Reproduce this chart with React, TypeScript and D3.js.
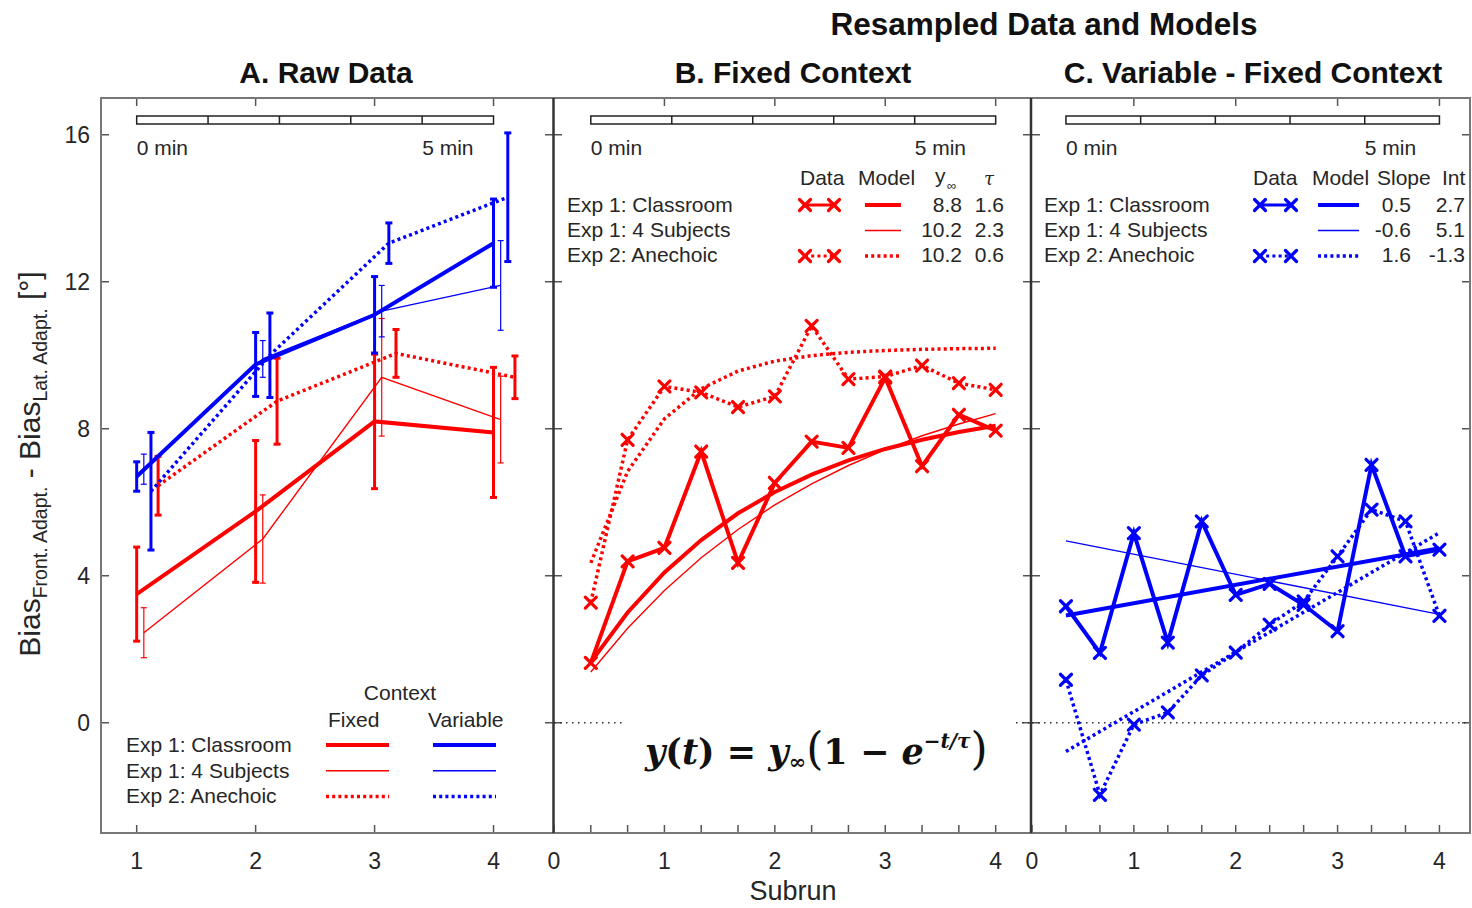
import React from 'react';
import * as d3 from 'd3';

// ---------- Panel A: raw data (mean ± error) ----------
const subrun = [1, 2, 3, 4];
const fixClassMean = [3.5, 5.75, 8.2, 7.9];
const fixClassErr = [1.28, 1.93, 1.83, 1.77];
const fix4SubjMean = [2.45, 5.0, 9.4, 8.25];
const fix4SubjErr = [0.68, 1.2, 1.6, 1.18];
const fixAnechMean = [6.45, 8.75, 10.05, 9.4];
const fixAnechErr = [0.8, 1.17, 0.65, 0.58];
const varClassMean = [6.7, 9.75, 11.1, 13.05];
const varClassErr = [0.4, 0.87, 1.04, 1.2];
const var4SubjMean = [6.9, 9.9, 11.2, 11.9];
const var4SubjErr = [0.41, 0.5, 0.7, 1.22];
const varAnechMean = [6.3, 10.0, 13.05, 14.3];
const varAnechErr = [1.6, 1.15, 0.55, 1.75];

// ---------- Panels B and C: resampled data and models ----------
const resampleT = [1 / 3, 2 / 3, 1, 4 / 3, 5 / 3, 2, 7 / 3, 8 / 3, 3, 10 / 3, 11 / 3, 4];
const fixClassData = [1.63, 4.39, 4.76, 7.38, 4.35, 6.53, 7.65, 7.48, 9.39, 6.98, 8.38, 7.95];
const fixAnechData = [3.27, 7.7, 9.15, 8.99, 8.59, 8.88, 10.8, 9.35, 9.42, 9.72, 9.24, 9.06];
const fixClassModel = [1.65, 3.0, 4.09, 4.97, 5.7, 6.28, 6.75, 7.14, 7.45, 7.7, 7.91, 8.08];
const fix4SubjModel = [1.38, 2.57, 3.6, 4.49, 5.26, 5.93, 6.5, 7.0, 7.43, 7.81, 8.13, 8.41];
const fixAnechModel = [4.35, 6.84, 8.27, 9.09, 9.57, 9.84, 9.99, 10.08, 10.13, 10.16, 10.18, 10.19];

const diffClassData = [3.17, 1.9, 5.16, 2.18, 5.48, 3.48, 3.78, 3.21, 2.49, 7.02, 4.53, 4.71];
const diffAnechData = [1.17, -1.96, -0.05, 0.28, 1.29, 1.91, 2.67, 3.3, 4.53, 5.8, 5.48, 2.91];
const diffModelT = [1 / 3, 4];
const diffClassModel = [2.92, 4.75];
const diff4SubjModel = [4.95, 2.95];
const diffAnechModel = [-0.78, 5.17];

// ---------- Legends / labels ----------
const expNames = ['Exp 1: Classroom', 'Exp 1: 4 Subjects', 'Exp 2: Anechoic'];
const yInfValues = ['8.8', '10.2', '10.2'];
const tauValues = ['1.6', '2.3', '0.6'];
const slopeValues = ['0.5', '-0.6', '1.6'];
const intValues = ['2.7', '5.1', '-1.3'];
const yTicks = [0, 4, 8, 12, 16];
const xTicksA = [1, 2, 3, 4];
const xTicksBC = [0, 1, 2, 3, 4];
const minorTicksBC = [0, 1 / 3, 2 / 3, 1, 4 / 3, 5 / 3, 2, 7 / 3, 8 / 3, 3, 10 / 3, 11 / 3, 4];
const minuteMarks = [0, 1, 2, 3, 4, 5];

const RED = '#ff0000';
const BLUE = '#0000ff';
const FONT = "'Liberation Sans', Arial, sans-serif";
const TOP = 98;
const BOTTOM = 833;

const y = d3.scaleLinear().domain([-3, 17]).range([BOTTOM, TOP]);
const xA = d3.scaleLinear().domain([0.7, 4.5]).range([101, 553]);
const xB = d3.scaleLinear().domain([0, 4.32]).range([554, 1031]);
const xC = d3.scaleLinear().domain([0, 4.3]).range([1032, 1470]);

const THICK = { width: 4, dash: undefined as string | undefined };
const THIN = { width: 1.4, dash: undefined as string | undefined };
const DOT = { width: 3.5, dash: '3,3.2' };

function lineD(xs: number[], ys: number[], xs_: d3.ScaleLinear<number, number>, dx = 0) {
  const pts = xs.map((t, i) => [t + dx, ys[i]] as [number, number]);
  return d3.line<[number, number]>().x((d) => xs_(d[0])).y((d) => y(d[1]))(pts) || '';
}

function XMark({ cx, cy, color, s = 5.5 }: { cx: number; cy: number; color: string; s?: number }) {
  return (
    <g stroke={color} strokeWidth={3.2} strokeLinecap="round">
      <line x1={cx - s} y1={cy - s} x2={cx + s} y2={cy + s} />
      <line x1={cx - s} y1={cy + s} x2={cx + s} y2={cy - s} />
    </g>
  );
}

function ErrorSeries({ means, errs, color, style, dx, capW, barW }: any) {
  return (
    <g>
      <path d={lineD(subrun, means, xA, dx)} fill="none" stroke={color} strokeWidth={style.width} strokeDasharray={style.dash} />
      {subrun.map((s, i) => {
        const cx = xA(s + dx);
        const y1 = y(means[i] + errs[i]);
        const y2 = y(means[i] - errs[i]);
        return (
          <g key={i} stroke={color} strokeWidth={barW}>
            <line x1={cx} x2={cx} y1={y1} y2={y2} />
            <line x1={cx - capW} x2={cx + capW} y1={y1} y2={y1} />
            <line x1={cx - capW} x2={cx + capW} y1={y2} y2={y2} />
          </g>
        );
      })}
    </g>
  );
}

function Frame({ x0, x1, xs, majors, minors, labels, left }: any) {
  const tl = 8;
  return (
    <g>
      {yTicks.map((t) => (
        <g key={'y' + t} stroke="#555" strokeWidth={1.5}>
          <line x1={x0} x2={x0 + tl} y1={y(t)} y2={y(t)} />
          <line x1={x1 - tl} x2={x1} y1={y(t)} y2={y(t)} />
        </g>
      ))}
      {majors.map((t: number) => (
        <line key={'t' + t} x1={xs(t)} x2={xs(t)} y1={TOP} y2={TOP + tl} stroke="#555" strokeWidth={1.5} />
      ))}
      {minors.map((t: number, i: number) => (
        <line key={'b' + i} x1={xs(t)} x2={xs(t)} y1={BOTTOM} y2={BOTTOM - tl} stroke="#555" strokeWidth={1.5} />
      ))}
      {labels.map((t: number) => (
        <text key={'l' + t} x={xs(t)} y={869} fontSize={23} textAnchor="middle" fill="#262626" fontFamily={FONT}>
          {t}
        </text>
      ))}
      {left &&
        yTicks.map((t) => (
          <text key={'yl' + t} x={90} y={y(t) + 8} fontSize={23} textAnchor="end" fill="#262626" fontFamily={FONT}>
            {t}
          </text>
        ))}
    </g>
  );
}

function TimeBar({ xs, start, end }: any) {
  const seg = d3.scaleLinear().domain([0, 5]).range([xs(start), xs(end)]);
  return (
    <g>
      <rect x={seg(0)} y={116} width={seg(5) - seg(0)} height={8} fill="#fff" stroke="#222" strokeWidth={1.5} />
      {minuteMarks.slice(1, 5).map((m) => (
        <line key={m} x1={seg(m)} x2={seg(m)} y1={116} y2={124} stroke="#222" strokeWidth={1.5} />
      ))}
      <text x={seg(0)} y={155} fontSize={21} fill="#262626" fontFamily={FONT}>0 min</text>
      <text x={seg(4)} y={155} fontSize={21} fill="#262626" fontFamily={FONT}>5 min</text>
    </g>
  );
}

function LegendLine({ x1, x2, yy, color, style }: any) {
  return <line x1={x1} x2={x2} y1={yy} y2={yy} stroke={color} strokeWidth={style.width} strokeDasharray={style.dash} />;
}

function DataSymbol({ x1, x2, yy, color, style }: any) {
  return (
    <g>
      <line x1={x1} x2={x2} y1={yy} y2={yy} stroke={color} strokeWidth={3} strokeDasharray={style.dash} />
      <XMark cx={x1} cy={yy} color={color} />
      <XMark cx={x2} cy={yy} color={color} />
    </g>
  );
}

export default function App() {
  const rowY = [212, 237, 262];
  const lineStyles = [THICK, THIN, DOT];
  return (
    <svg width={1472} height={908} style={{ display: 'block', position: 'absolute', left: 0, top: 0, background: '#fff' }}>
      <rect x={0} y={0} width={1472} height={908} fill="#fff" />
      {/* Titles */}
      <g fontFamily={FONT} fontWeight="bold" fill="#111" textAnchor="middle">
        <text x={1044} y={35} fontSize={31.5}>Resampled Data and Models</text>
        <text x={326} y={83} fontSize={30}>A. Raw Data</text>
        <text x={793} y={83} fontSize={30}>B. Fixed Context</text>
        <text x={1253} y={83} fontSize={30}>C. Variable - Fixed Context</text>
      </g>

      {/* Frames */}
      <Frame x0={101} x1={553} xs={xA} majors={xTicksA} minors={xTicksA} labels={xTicksA} left />
      <Frame x0={554} x1={1031} xs={xB} majors={xTicksBC.slice(1)} minors={minorTicksBC} labels={xTicksBC} />
      <Frame x0={1032} x1={1470} xs={xC} majors={xTicksBC.slice(1)} minors={minorTicksBC} labels={xTicksBC} />

      {/* Zero lines */}
      <line x1={xB(0)} x2={1031} y1={y(0)} y2={y(0)} stroke="#333" strokeWidth={1.5} strokeDasharray="1.5,4.5" />
      <line x1={xC(0)} x2={1470} y1={y(0)} y2={y(0)} stroke="#333" strokeWidth={1.5} strokeDasharray="1.5,4.5" />

      {/* Time bars */}
      <TimeBar xs={xA} start={1} end={4} />
      <TimeBar xs={xB} start={1 / 3} end={4} />
      <TimeBar xs={xC} start={1 / 3} end={4} />

      {/* Panel A series */}
      <ErrorSeries means={fixClassMean} errs={fixClassErr} color={RED} style={THICK} dx={0} capW={3.5} barW={3} />
      <ErrorSeries means={fix4SubjMean} errs={fix4SubjErr} color={RED} style={THIN} dx={0.06} capW={3} barW={1.2} />
      <ErrorSeries means={fixAnechMean} errs={fixAnechErr} color={RED} style={DOT} dx={0.18} capW={3.5} barW={3} />
      <ErrorSeries means={varClassMean} errs={varClassErr} color={BLUE} style={THICK} dx={0} capW={3.5} barW={3} />
      <ErrorSeries means={var4SubjMean} errs={var4SubjErr} color={BLUE} style={THIN} dx={0.06} capW={3} barW={1.2} />
      <ErrorSeries means={varAnechMean} errs={varAnechErr} color={BLUE} style={DOT} dx={0.12} capW={3.5} barW={3} />

      {/* Panel A legend */}
      <g fontFamily={FONT} fontSize={21} fill="#262626">
        <text x={400} y={700} textAnchor="middle">Context</text>
        <text x={328} y={727}>Fixed</text>
        <text x={428} y={727}>Variable</text>
        {expNames.map((n, i) => (
          <text key={n} x={126} y={752 + i * 25.5}>{n}</text>
        ))}
      </g>
      {lineStyles.map((st, i) => (
        <g key={i}>
          <LegendLine x1={326} x2={389} yy={745 + i * 25.8} color={RED} style={st} />
          <LegendLine x1={433} x2={496} yy={745 + i * 25.8} color={BLUE} style={st} />
        </g>
      ))}

      {/* Panel B */}
      <path d={lineD(resampleT, fixAnechModel, xB)} fill="none" stroke={RED} strokeWidth={DOT.width} strokeDasharray={DOT.dash} />
      <path d={lineD(resampleT, fix4SubjModel, xB)} fill="none" stroke={RED} strokeWidth={THIN.width} />
      <path d={lineD(resampleT, fixClassModel, xB)} fill="none" stroke={RED} strokeWidth={THICK.width} />
      <path d={lineD(resampleT, fixAnechData, xB)} fill="none" stroke={RED} strokeWidth={DOT.width} strokeDasharray={DOT.dash} />
      <path d={lineD(resampleT, fixClassData, xB)} fill="none" stroke={RED} strokeWidth={THICK.width} />
      {resampleT.map((t, i) => (
        <g key={'bm' + i}>
          <XMark cx={xB(t)} cy={y(fixAnechData[i])} color={RED} />
          <XMark cx={xB(t)} cy={y(fixClassData[i])} color={RED} />
        </g>
      ))}

      {/* Panel B legend */}
      <g fontFamily={FONT} fontSize={21} fill="#262626">
        <text x={800} y={185}>Data</text>
        <text x={858} y={185}>Model</text>
        <text x={935} y={183}>y</text>
        <text x={947} y={190} fontSize={13}>∞</text>
        <text x={984} y={185} fontStyle="italic" fontFamily="'DejaVu Serif', serif" fontSize={18}>τ</text>
        {expNames.map((n, i) => (
          <g key={n}>
            <text x={567} y={rowY[i]}>{n}</text>
            <text x={962} y={rowY[i]} textAnchor="end">{yInfValues[i]}</text>
            <text x={1004} y={rowY[i]} textAnchor="end">{tauValues[i]}</text>
          </g>
        ))}
      </g>
      <DataSymbol x1={805} x2={834} yy={205} color={RED} style={THICK} />
      <DataSymbol x1={805} x2={834} yy={256} color={RED} style={DOT} />
      {lineStyles.map((st, i) => (
        <LegendLine key={'bl' + i} x1={865} x2={901} yy={205 + i * 25.5} color={RED} style={st} />
      ))}

      {/* Formula */}
      <rect x={623} y={708} width={392} height={90} fill="#fff" />
      <text x={645} y={764} fontFamily="'DejaVu Serif', 'Liberation Serif', serif" fontWeight="bold" fontSize={35} fill="#111">
        <tspan fontStyle="italic">y</tspan>
        <tspan>(</tspan>
        <tspan fontStyle="italic">t</tspan>
        <tspan>) = </tspan>
        <tspan fontStyle="italic">y</tspan>
        <tspan fontSize={21} dy={5}>∞</tspan>
        <tspan fontSize={44} dy={-5} fontWeight="normal">(</tspan>
        <tspan>1 − </tspan>
        <tspan fontStyle="italic">e</tspan>
        <tspan fontSize={20} dy={-16} fontStyle="italic">−t/τ</tspan>
        <tspan fontSize={44} dy={16} fontWeight="normal">)</tspan>
      </text>

      {/* Panel C */}
      <path d={lineD(diffModelT, diffAnechModel, xC)} fill="none" stroke={BLUE} strokeWidth={DOT.width} strokeDasharray={DOT.dash} />
      <path d={lineD(diffModelT, diff4SubjModel, xC)} fill="none" stroke={BLUE} strokeWidth={THIN.width} />
      <path d={lineD(diffModelT, diffClassModel, xC)} fill="none" stroke={BLUE} strokeWidth={THICK.width} />
      <path d={lineD(resampleT, diffAnechData, xC)} fill="none" stroke={BLUE} strokeWidth={DOT.width} strokeDasharray={DOT.dash} />
      <path d={lineD(resampleT, diffClassData, xC)} fill="none" stroke={BLUE} strokeWidth={THICK.width} />
      {resampleT.map((t, i) => (
        <g key={'cm' + i}>
          <XMark cx={xC(t)} cy={y(diffAnechData[i])} color={BLUE} />
          <XMark cx={xC(t)} cy={y(diffClassData[i])} color={BLUE} />
        </g>
      ))}

      {/* Panel C legend */}
      <g fontFamily={FONT} fontSize={21} fill="#262626">
        <text x={1253} y={185}>Data</text>
        <text x={1312} y={185}>Model</text>
        <text x={1377} y={185}>Slope</text>
        <text x={1442} y={185}>Int</text>
        {expNames.map((n, i) => (
          <g key={n}>
            <text x={1044} y={rowY[i]}>{n}</text>
            <text x={1411} y={rowY[i]} textAnchor="end">{slopeValues[i]}</text>
            <text x={1465} y={rowY[i]} textAnchor="end">{intValues[i]}</text>
          </g>
        ))}
      </g>
      <DataSymbol x1={1260} x2={1291} yy={205} color={BLUE} style={THICK} />
      <DataSymbol x1={1260} x2={1291} yy={256} color={BLUE} style={DOT} />
      {lineStyles.map((st, i) => (
        <LegendLine key={'cl' + i} x1={1318} x2={1359} yy={205 + i * 25.5} color={BLUE} style={st} />
      ))}

      {/* Panel boxes */}
      <rect x={101} y={TOP} width={1470 - 101} height={BOTTOM - TOP} fill="none" stroke="#777" strokeWidth={2} />
      <line x1={553.5} x2={553.5} y1={TOP} y2={BOTTOM} stroke="#333" strokeWidth={2.5} />
      <line x1={1031} x2={1031} y1={TOP} y2={BOTTOM} stroke="#333" strokeWidth={2.5} />

      {/* Axis labels */}
      <text x={793} y={900} fontSize={27} textAnchor="middle" fill="#262626" fontFamily={FONT}>Subrun</text>
      <text transform="translate(40,464) rotate(-90)" textAnchor="middle" fontFamily={FONT} fill="#262626" fontSize={30}>
        <tspan>Bias</tspan>
        <tspan fontSize={19.5} dy={7}>Front. Adapt.</tspan>
        <tspan dy={-7}> - Bias</tspan>
        <tspan fontSize={19.5} dy={7}>Lat. Adapt.</tspan>
        <tspan dy={-7}> [°]</tspan>
      </text>
    </svg>
  );
}
